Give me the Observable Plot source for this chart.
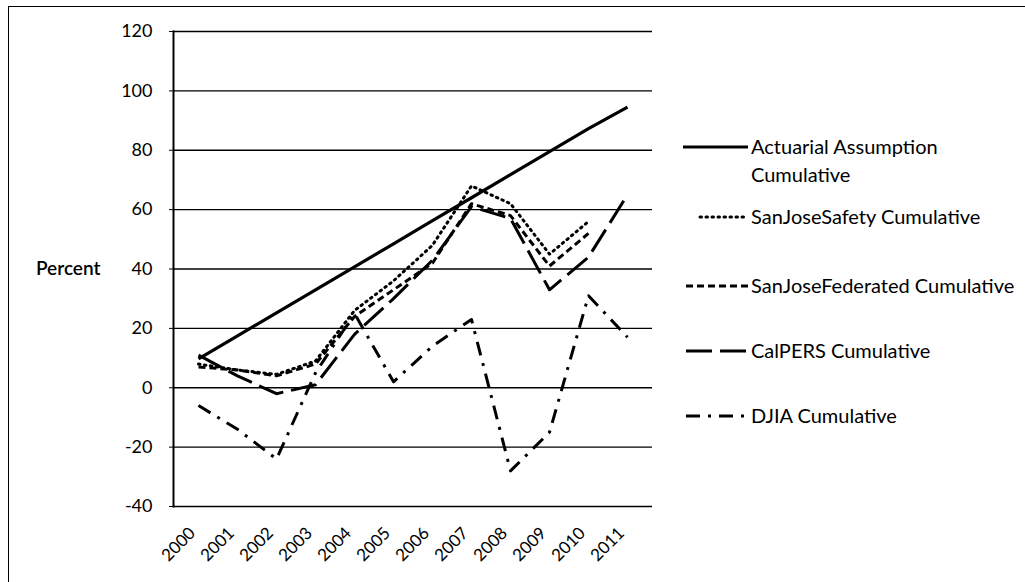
<!DOCTYPE html>
<html>
<head>
<meta charset="utf-8">
<script src="https://cdn.jsdelivr.net/npm/d3@7"></script>
<script src="https://cdn.jsdelivr.net/npm/@observablehq/plot@0.6"></script>
<style>
  html, body { margin: 0; padding: 0; background: #fff; }
  #wrap { position: relative; width: 1025px; height: 582px; overflow: hidden; font-family: Lato, "Open Sans", sans-serif; }
  #border { position: absolute; left: 8px; top: 6px; width: 1200px; height: 700px; border-left: 1.5px solid #000; border-top: 1.5px solid #000; }
  #chart { position: absolute; left: 0; top: 0; }
  #overlay { position: absolute; left: 0; top: 0; }
</style>
</head>
<body>
<div id="wrap">
  <div id="border"></div>
  <div id="chart"></div>
  <svg id="overlay" width="1025" height="582"></svg>
</div>
<script>
const years = ["2000","2001","2002","2003","2004","2005","2006","2007","2008","2009","2010","2011"];
const yTicks = [-40, -20, 0, 20, 40, 60, 80, 100, 120];
const actuarial = [9.7, 17.5, 25.2, 33.0, 40.7, 48.5, 56.3, 64.0, 71.8, 79.5, 87.3, 94.5];
const sanJoseSafety = [8, 6, 4.5, 9, 26, 36, 48, 68, 62, 45, 56, null];
const sanJoseFederated = [7, 6, 4, 8, 24, 33, 42, 62, 58, 41, 52, null];
const calpers = [11, 4, -2, 1, 18, 30, 43, 61, 57, 33, 44, 65];
const djia = [-6, -14, -24, 5, 25, 2, 14, 23, -28, -15, 31, 17];

const seriesNames = ["Actuarial Assumption Cumulative", "SanJoseSafety Cumulative", "SanJoseFederated Cumulative", "CalPERS Cumulative", "DJIA Cumulative"];
const seriesValues = [actuarial, sanJoseSafety, sanJoseFederated, calpers, djia];
const dashes = [null, "1.5,4.5", "7,4", "26,8", "14,8,3,8"];
const widths = [3.2, 3, 3, 3, 3];

const rows = (vals) => years.map((y, i) => ({year: y, value: vals[i]})).filter(d => d.value != null);

const lineMarks = seriesValues.map((vals, k) =>
  Plot.lineY(rows(vals), {
    x: "year", y: "value", stroke: "black", strokeWidth: widths[k],
    strokeDasharray: dashes[k], strokeLinecap: k === 1 ? "round" : "butt"
  })
);

const chart = Plot.plot({
  width: 1025, height: 582,
  marginLeft: 173, marginRight: 373, marginTop: 31, marginBottom: 76,
  style: {fontFamily: "Lato, sans-serif", fontSize: "18px", color: "black", background: "transparent", overflow: "visible"},
  x: {type: "point", domain: years, padding: 0.5},
  y: {domain: [-40, 120]},
  marks: [
    Plot.ruleY(yTicks, {stroke: "black", strokeWidth: 1.3}),
    Plot.frame({anchor: "left", stroke: "black", strokeWidth: 2}),
    Plot.axisY({ticks: yTicks, tickSize: 4, tickPadding: 17, fontSize: 18, label: null, tickFormat: d => String(d)}),
    Plot.axisX({tickRotate: -45, tickSize: 0, tickPadding: 16, dx: -6, dy: 8, fontSize: 17, label: null}),
    ...lineMarks
  ]
});
document.getElementById("chart").appendChild(chart);

// Axis title and legend
const ov = d3.select("#overlay");
ov.append("text").attr("x", 36).attr("y", 268).attr("dy", "0.35em")
  .attr("font-family", "Lato, sans-serif").attr("font-size", 19).attr("font-weight", 600).text("Percent");

const legendY = [147, 217, 286, 351, 416];
const legendX0 = [683, 700, 686, 686, 686];
const legendX1 = 748;
seriesNames.forEach((name, k) => {
  ov.append("line").attr("x1", legendX0[k]).attr("x2", legendX1)
    .attr("y1", legendY[k]).attr("y2", legendY[k])
    .attr("stroke", "black").attr("stroke-width", widths[k])
    .attr("stroke-dasharray", dashes[k])
    .attr("stroke-linecap", k === 1 ? "round" : "butt");
  const t = ov.append("text").attr("x", 751).attr("y", legendY[k]).attr("dy", "0.35em")
    .attr("font-family", "Lato, sans-serif").attr("font-size", 20);
  if (k === 0) {
    t.append("tspan").attr("x", 751).text("Actuarial Assumption");
    t.append("tspan").attr("x", 751).attr("dy", "1.4em").text("Cumulative");
  } else {
    t.text(name);
  }
});
</script>
</body>
</html>
